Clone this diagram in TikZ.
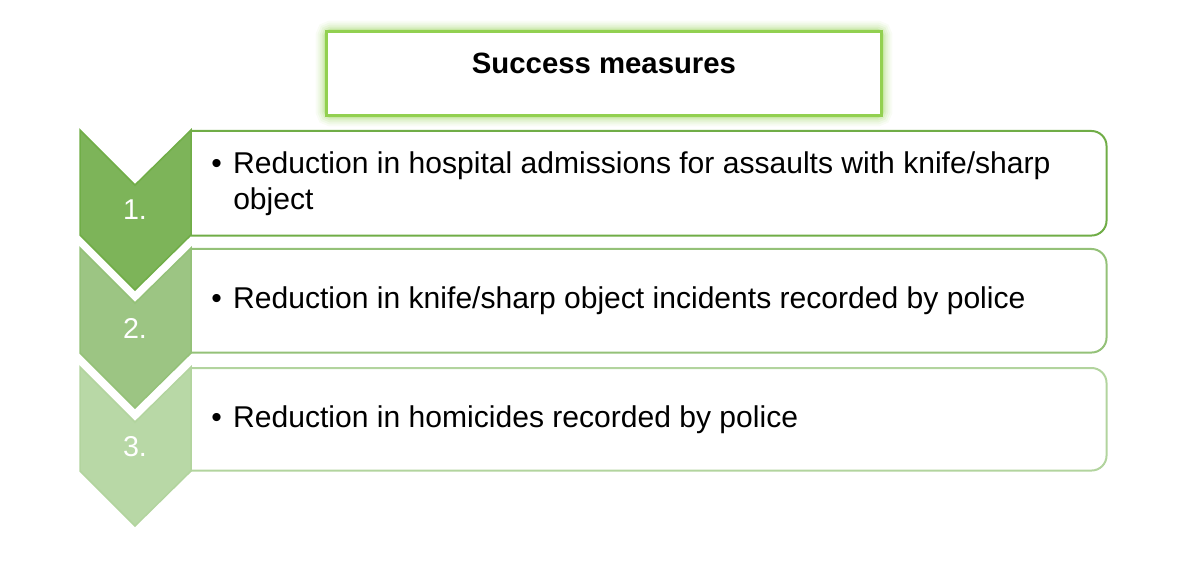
\documentclass[tikz,border=0pt]{standalone}
\usepackage{fontspec}
\setmainfont{Liberation Sans}

\newdimen\pxl \pxl=0.75pt

\definecolor{glowgreen}{RGB}{146,208,80}
\definecolor{onefill}{RGB}{125,180,89}
\definecolor{oneline}{RGB}{112,173,71}
\definecolor{twofill}{RGB}{156,197,131}
\definecolor{twoline}{RGB}{148,193,120}
\definecolor{threefill}{RGB}{184,216,166}
\definecolor{threeline}{RGB}{178,212,158}

\newcommand{\bulletline}[1]{\makebox[22\pxl][l]{\textbullet}\parbox[t]{860\pxl}{\raggedright #1}}

\begin{document}
\begin{tikzpicture}[x=0.75pt, y=-0.75pt]
	\tikzstyle{frame} = [line width=2\pxl, rounded corners=15\pxl]
	\tikzstyle{slot} = [minimum width=915\pxl, anchor=north west, inner sep=0pt]
	\tikzstyle{item} = [anchor=west, inner sep=0pt, font=\fontsize{22.55}{27}\selectfont]
	\tikzstyle{chevron} = [line width=1.5\pxl, line join=miter]
	\tikzstyle{number} = [text=white, font=\fontsize{21.5}{25}\selectfont]

	\useasboundingbox (0,0) rectangle (1200,563);

%----------Title with glow------------------------------
	\node[minimum width=554\pxl, minimum height=83\pxl] (title) at (604,73.5) {};
	\foreach \w/\o in {22/0.06, 18/0.08, 14/0.1, 10/0.14, 6/0.28}
		\draw[draw=glowgreen, line width=\w\pxl, opacity=\o, rounded corners=4\pxl] (title.north west) rectangle (title.south east);
	\draw[draw=glowgreen, line width=2.5\pxl, fill=white] (title.north west) rectangle (title.south east);
	\node[font=\fontsize{22}{26}\selectfont\bfseries] (head) at (604,63) {Success measures};

%----------Boxes------------------------------
	\node[slot, minimum height=104\pxl] (s1) at (191,131) {};
	\node[slot, minimum height=103\pxl] (s2) at (191,249) {};
	\node[slot, minimum height=102\pxl] (s3) at (191,368) {};

	\draw[frame, draw=oneline] (s1.north west) -- (s1.north east) -- (s1.south east) -- (s1.south west);
	\draw[frame, draw=twoline] (s2.north west) -- (s2.north east) -- (s2.south east) -- (s2.south west);
	\draw[frame, draw=threeline] (s3.north west) -- (s3.north east) -- (s3.south east) -- (s3.south west);

	\node[item] (t1) at ([xshift=20\pxl]s1.west) {\bulletline{Reduction in hospital admissions for assaults with knife/sharp object}};
	\node[item] (t2) at ([xshift=20\pxl]s2.west) {\bulletline{Reduction in knife/sharp object incidents recorded by police}};
	\node[item] (t3) at ([xshift=20\pxl]s3.west) {\bulletline{Reduction in homicides recorded by police}};

%----------Chevrons------------------------------
	\filldraw[chevron, fill=onefill, draw=oneline] (80,130) -- (135,185) -- (191,130) -- (191,235) -- (135,290) -- (80,235) -- cycle;
	\filldraw[chevron, fill=twofill, draw=twoline] (80,248) -- (135,303) -- (191,248) -- (191,353) -- (135,408) -- (80,353) -- cycle;
	\filldraw[chevron, fill=threefill, draw=threeline] (80,367) -- (135,422) -- (191,367) -- (191,471) -- (135,526) -- (80,471) -- cycle;

	\node[number] (n1) at (135,210) {1.};
	\node[number] (n2) at (135,328) {2.};
	\node[number] (n3) at (135,447) {3.};
\end{tikzpicture}
\end{document}
